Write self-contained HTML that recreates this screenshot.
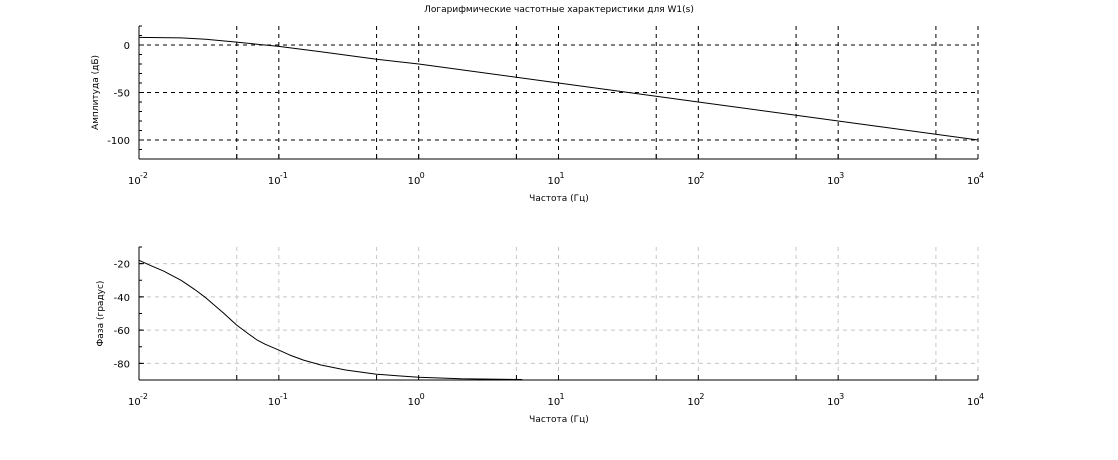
<!DOCTYPE html>
<html><head><meta charset="utf-8"><style>
body{margin:0;background:#fff;}
svg{display:block;font-family:"DejaVu Sans","Liberation Sans",sans-serif;}
</style></head><body>
<svg id="c" width="1118" height="460" xmlns="http://www.w3.org/2000/svg">
<text x="559" y="12" font-size="9" text-anchor="middle">Логарифмические частотные характеристики для W1(s)</text>
</svg>
<script>
const magFreq=[0.01,0.02,0.03,0.05,0.07,0.1,0.2,0.5,1,10,100,1000,10000];
const magDb=[8,7.5,6,3,0.8,-1.5,-7,-15,-20,-40,-60,-80,-100];
const phFreq=[0.01,0.012,0.015,0.02,0.025,0.03,0.04,0.05,0.06,0.07,0.08,0.1,0.12,0.15,0.2,0.3,0.5,0.7,1,2,5.5];
const phDeg=[-18,-21,-24.5,-30,-35.5,-40.5,-49.5,-57,-62,-66,-68.5,-72,-75,-78,-81,-84,-86.5,-87.5,-88.3,-89.2,-89.7];
const decades=[-2,-1,0,1,2,3,4];
const magTicks=[0,-50,-100];
const phTicks=[-20,-40,-60,-80];
const NS="http://www.w3.org/2000/svg";
const svg=document.getElementById('c');
function el(t,a,p){const e=document.createElementNS(NS,t);for(const k in a)e.setAttribute(k,a[k]);(p||svg).appendChild(e);return e;}
const X0=139,X1=978;
const xs=f=>X0+(Math.log10(f)+2)/6*(X1-X0);
function panel(name,yTop,yBot,vmax,vmin,ticks,minor,gridCol,fx,fy,ylabel,labelY,xlabY){
  const g=el('g',{});
  
  
  const ys=v=>yTop+(vmax-v)/(vmax-vmin)*(yBot-yTop);
  const dash={stroke:gridCol,'stroke-dasharray':'4,4','stroke-width':1};
  decades.forEach(d=>{
    [Math.pow(10,d),5*Math.pow(10,d)].forEach(f=>{
      if(f>1e4)return;
      const x=xs(f);
      if(d>-2||f>0.011){const l=el('line',Object.assign({x1:x,x2:x,y1:yTop,y2:yBot},dash),g);}
      el('line',{x1:x,x2:x,y1:yBot,y2:yBot-5,stroke:'#000'},g);
    });
  });
  ticks.forEach(v=>{
    const y=ys(v);
    const l=el('line',Object.assign({x1:X0,x2:X1,y1:y,y2:y},dash),g);
    
    el('line',{x1:X0,x2:X0+5,y1:y,y2:y,stroke:'#000'},g);
    const t=el('text',{x:X0-9,y:y+4,'font-size':10,'text-anchor':'end'},g);t.textContent=v;
    
  });
  for(let v=vmax;v>=vmin;v-=minor){const y=ys(v);el('line',{x1:X0,x2:X0+3,y1:y,y2:y,stroke:'#000'},g);}
  el('line',{x1:X0,x2:X0,y1:yTop,y2:yBot,stroke:'#000'},g);
  el('line',{x1:X0,x2:X1,y1:yBot,y2:yBot,stroke:'#000'},g);
  decades.forEach(d=>{
    const x=xs(Math.pow(10,d));
    const t=el('text',{x:x-11,y:yBot+25,'font-size':10},g);t.textContent='10';
    
    const s=el('text',{x:x+1,y:yBot+19,'font-size':8},g);s.textContent=String(d);
  });
  let dstr='';
  fx.forEach((f,i)=>{dstr+=(i?'L':'M')+xs(f).toFixed(1)+','+ys(fy[i]).toFixed(1);});
  const p=el('path',{d:dstr,fill:'none',stroke:'#000','stroke-width':1,'stroke-linejoin':'round'},g);
  
  const yl=el('text',{x:0,y:0,'font-size':9,'text-anchor':'middle',transform:`translate(${labelY},${(yTop+yBot)/2}) rotate(-90)`},g);
  yl.textContent=ylabel;
  const xl=el('text',{x:559,y:xlabY,'font-size':9,'text-anchor':'middle'},g);
  xl.textContent='Частота (Гц)';
}
panel('magnitude-plot',26,159,20,-120,magTicks,10,'#000',magFreq,magDb,'Амплитуда (дБ)',98,201);
panel('phase-plot',247,380,-10,-90,phTicks,10,'#c8c8c8',phFreq,phDeg,'Фаза (градус)',103,422);
</script>
</body></html>
